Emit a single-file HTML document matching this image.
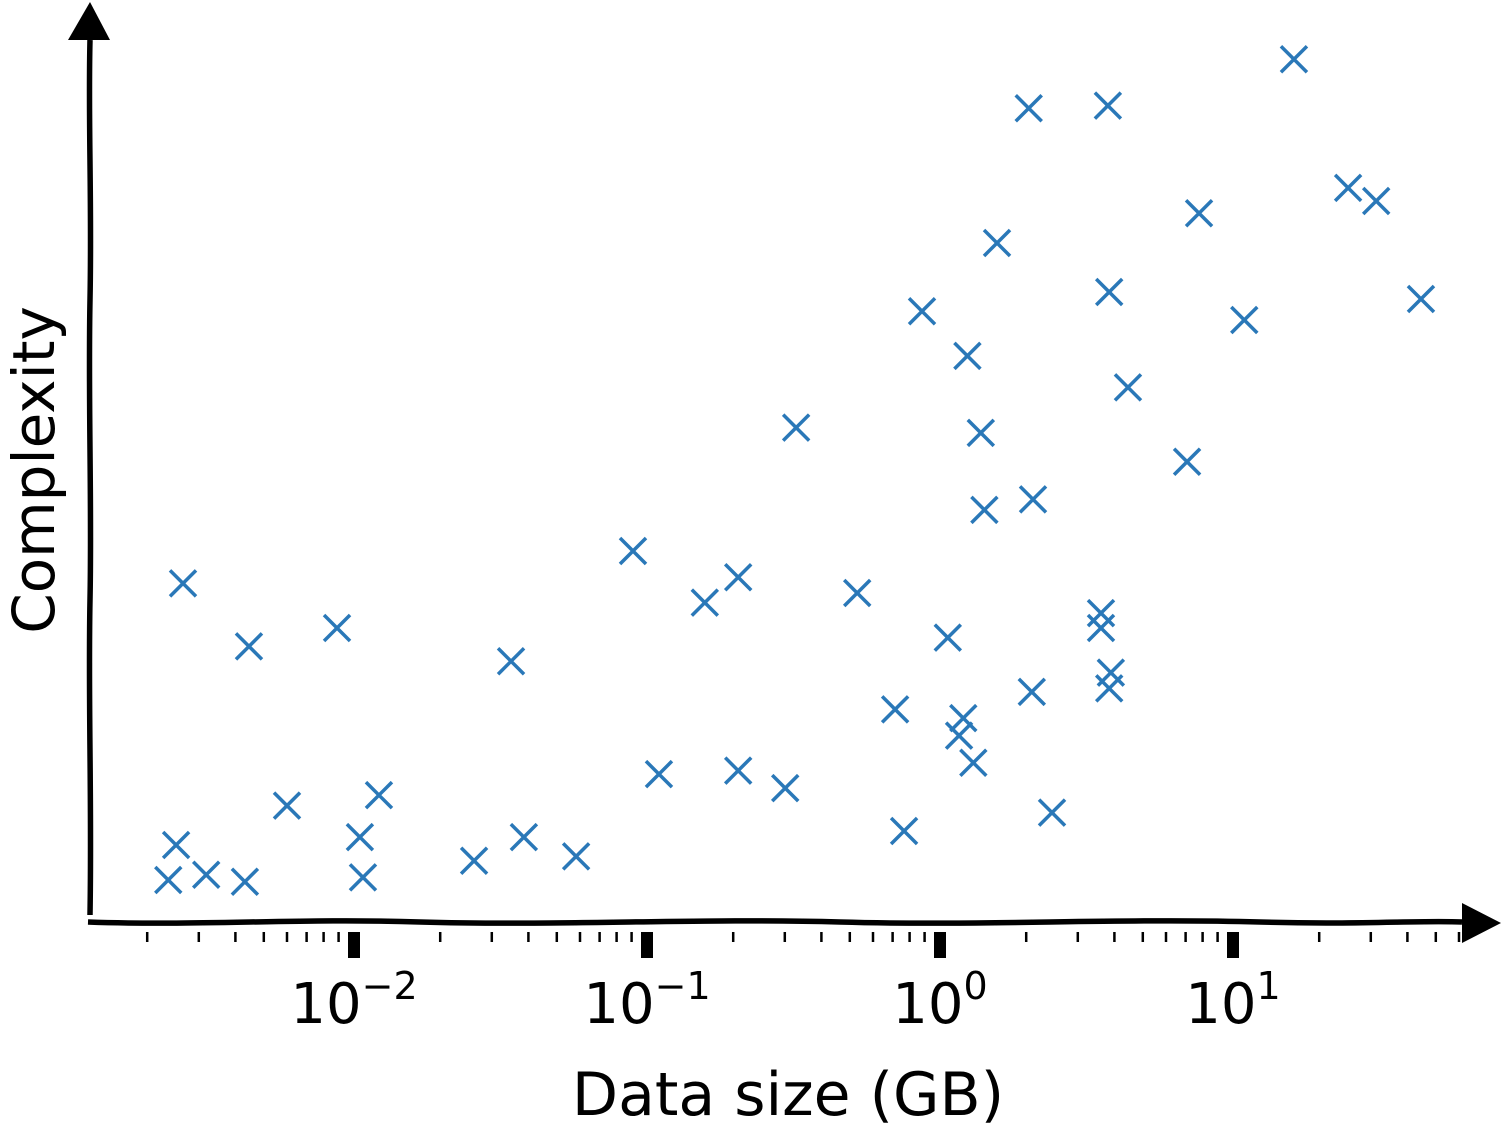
<!DOCTYPE html>
<html><head><meta charset="utf-8">
<style>
html,body{margin:0;padding:0;background:#fff;}
svg{display:block;}
text{font-family:"DejaVu Sans","Liberation Sans",sans-serif;fill:#000;}
</style></head>
<body>
<svg id="chart" width="1502" height="1134" viewBox="0 0 1502 1134" xmlns="http://www.w3.org/2000/svg">
  <g id="axes">
    <path d="M90 915 C92 800 88 700 90 600 C92 500 88 400 90 300 C92 200 88 120 90 40" stroke="#000" stroke-width="5.5" fill="none"/>
    <polygon points="68,40 110,40 90,2" fill="#000"/>
    <path d="M88 922 C200 926 300 918 420 922 C560 926 700 918 840 922 C980 926 1120 918 1260 922 C1360 925 1420 920 1462 922" stroke="#000" stroke-width="5.5" fill="none"/>
    <polygon points="1462,903 1462,943 1501,923" fill="#000"/>
    <g id="ticks"></g>
    <text x="788" y="1115" font-size="60" text-anchor="middle">Data size (GB)</text>
    <text x="0" y="0" font-size="58" text-anchor="middle" transform="translate(54,470) rotate(-90)">Complexity</text>
  </g>
  <g id="points"></g>
</svg>
<script>
const dataSizeGB = [0.00236,0.00318,0.00431,0.00251,0.00265,0.00445,0.0060,0.00889,0.01064,0.0109,0.01236,0.0261,0.0349,0.0386,0.0582,0.091,0.1116,0.160,0.208,0.208,0.301,0.328,0.530,0.714,0.766,0.882,1.08,1.18,1.22,1.26,1.32,1.40,1.44,1.59,2.04,2.09,2.11,2.45,3.60,3.60,3.80,3.84,3.84,3.89,4.45,7.08,7.78,11.1,16.4,25.1,31.3,44.5];
const complexity = [4.0,4.6,3.8,8.0,37.9,30.7,12.5,32.8,8.9,4.3,13.7,6.2,29.0,8.9,6.7,41.6,16.1,35.7,38.6,16.5,14.5,55.7,36.8,23.5,9.6,69.0,31.7,20.5,22.5,63.9,17.4,55.1,46.3,76.8,92.2,25.5,47.5,11.7,34.5,32.8,92.5,71.2,25.9,27.7,60.3,51.8,80.2,68.0,97.8,83.1,81.6,70.4];
const majorTickExps = [-2,-1,0,1];
const majorTickLabels = ["−2","−1","0","1"];

const NS="http://www.w3.org/2000/svg";
function xScale(v){return 938+293*Math.log10(v);}
function yScale(v){return 915-8.75*v;}
function mk(tag,attrs,parent){const e=document.createElementNS(NS,tag);for(const k in attrs)e.setAttribute(k,attrs[k]);parent.appendChild(e);return e;}

const ticks=document.getElementById('ticks');
for(let d=-3; d<=1; d++){
  for(let m=2;m<=9;m++){
    const v=m*Math.pow(10,d);
    if(v<0.002||v>60) continue;
    const x=xScale(v);
    const t=mk('line',{x1:x,x2:x,y1:932,y2:942,stroke:'#000','stroke-width':2.5},ticks);
    
    
  }
}
majorTickExps.forEach((e,i)=>{
  const x=xScale(Math.pow(10,e))+2;
  const t=mk('rect',{x:x-6,y:932,width:12,height:26,fill:'#000'},ticks);
  
  
  const lab=mk('text',{x:x,y:1023,'font-size':56,'text-anchor':'middle'},ticks);
  
  
  lab.textContent='10';
  const sup=mk('tspan',{dy:-24,'font-size':38},lab);
  sup.textContent=majorTickLabels[i];
});

const pts=document.getElementById('points');
const r=13;
dataSizeGB.forEach((v,i)=>{
  const x=xScale(v), y=yScale(complexity[i]);
  const g=mk('g',{stroke:'#2a78b8','stroke-width':3.5,'stroke-linecap':'butt'},pts);
  
  
  mk('line',{x1:x-r,y1:y-r,x2:x+r,y2:y+r},g);
  mk('line',{x1:x-r,y1:y+r,x2:x+r,y2:y-r},g);
});
</script>
</body></html>
